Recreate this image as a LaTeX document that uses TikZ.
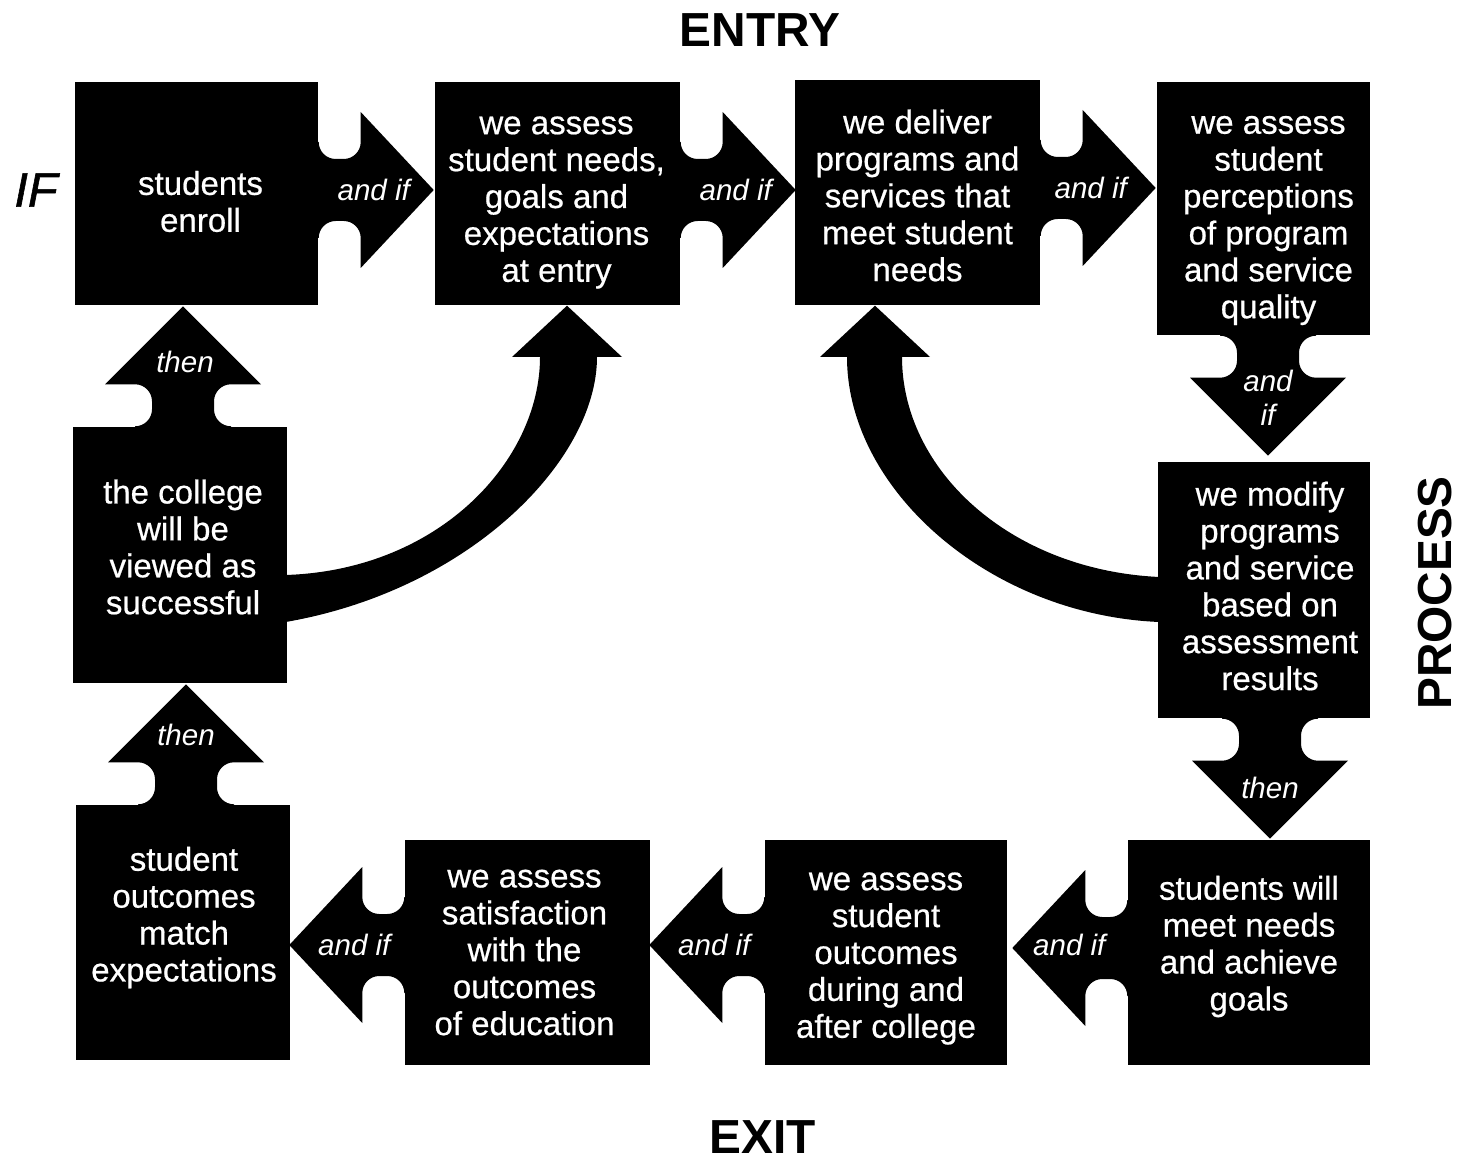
\documentclass[tikz,border=0pt]{standalone}
\usepackage{fontspec}
\setmainfont{Liberation Sans}
\newfontfamily\boxfont{Liberation Sans}[FakeBold=0.6]
\newfontfamily\iffont{Liberation Sans}[FakeBold=1.2]
\usetikzlibrary{calc}
\tikzset{
  box/.style={fill=black, draw=none, inner sep=0pt},
  boxtext/.style={text=white, align=center, inner sep=0pt,
    font=\boxfont\fontsize{9.4}{10.5}\selectfont},
  lbl/.style={text=white, inner sep=0pt, align=center,
    font=\fontsize{8.4}{9.6}\selectfont\itshape},
  puzzle/.style={fill=black},
  bigarrow/.style={fill=black},
  head/.style={inner sep=0pt, font=\fontsize{13.6}{15}\selectfont\bfseries},
}
% #1 origin, #2 rotation, #3 arrow-head length
\newcommand\puzzconn[3]{%
  \begin{scope}[shift={#1}, rotate=#2]
    \fill[puzzle] (-0.02,0.48) -- (0,0.48)
      arc[start angle=180, end angle=270, radius=0.17] -- (0.25,0.31)
      arc[start angle=270, end angle=360, radius=0.17] -- (0.42,0.78)
      -- ({0.42+#3},0) -- (0.42,-0.78) -- (0.42,-0.48)
      arc[start angle=0, end angle=90, radius=0.17] -- (0.17,-0.31)
      arc[start angle=90, end angle=180, radius=0.17] -- (-0.02,-0.48) -- cycle;
  \end{scope}}
\begin{document}
\begin{tikzpicture}
\useasboundingbox (0,0) rectangle (14.58,-11.61);

% boxes
\node[box, minimum width=2.43cm, minimum height=2.23cm] (b1) at (1.965,-1.935) {};
\node[box, minimum width=2.45cm, minimum height=2.23cm] (b2) at (5.575,-1.935) {};
\node[box, minimum width=2.45cm, minimum height=2.25cm] (b3) at (9.175,-1.925) {};
\node[box, minimum width=2.13cm, minimum height=2.53cm] (b4) at (12.635,-2.085) {};
\node[box, minimum width=2.12cm, minimum height=2.56cm] (b5) at (12.64,-5.90) {};
\node[box, minimum width=2.42cm, minimum height=2.25cm] (b6) at (12.49,-9.525) {};
\node[box, minimum width=2.42cm, minimum height=2.25cm] (b7) at (8.86,-9.525) {};
\node[box, minimum width=2.45cm, minimum height=2.25cm] (b8) at (5.275,-9.525) {};
\node[box, minimum width=2.14cm, minimum height=2.55cm] (b9) at (1.83,-9.325) {};
\node[box, minimum width=2.14cm, minimum height=2.56cm] (b10) at (1.80,-5.55) {};

% box texts
\node[boxtext] (t1) at ($(b1)+(0.04,-0.08)$) {students\\enroll};
\node[boxtext] (t2) at ($(b2)+(-0.01,-0.09)$) {we assess\\student needs,\\goals and\\expectations\\at entry};
\node[boxtext] (t3) at ($(b3)+(0,-0.03)$) {we deliver\\programs and\\services that\\meet student\\needs};
\node[boxtext] (t4) at ($(b4)+(0.05,-0.12)$) {we assess\\student\\perceptions\\of program\\and service\\quality};
\node[boxtext] (t5) at ($(b5)+(0.06,0.04)$) {we modify\\programs\\and service\\based on\\assessment\\results};
\node[boxtext] (t6) at ($(b6)+(0,0.06)$) {students will\\meet needs\\and achieve\\goals};
\node[boxtext] (t7) at ($(b7)+(0,-0.06)$) {we assess\\student\\outcomes\\during and\\after college};
\node[boxtext] (t8) at ($(b8)+(-0.03,0)$) {we assess\\satisfaction\\with the\\outcomes\\of education};
\node[boxtext] (t9) at ($(b9)+(0.01,0.15)$) {student\\outcomes\\match\\expectations};
\node[boxtext] (t10) at ($(b10)+(0.03,0.08)$) {the college\\will be\\viewed as\\successful};

% puzzle connectors
\puzzconn{($(b1.east)+(0,0.035)$)}{0}{0.73}
\puzzconn{($(b2.east)+(0,0.035)$)}{0}{0.73}
\puzzconn{($(b3.east)+(0,0.045)$)}{0}{0.73}
\puzzconn{($(b4.south)+(0.045,0)$)}{-90}{0.78}
\puzzconn{($(b5.south)+(0.06,0)$)}{-90}{0.78}
\puzzconn{($(b6.west)+(0,0.045)$)}{180}{0.73}
\puzzconn{($(b7.west)+(0,0.075)$)}{180}{0.73}
\puzzconn{($(b8.west)+(0,0.075)$)}{180}{0.73}
\puzzconn{($(b9.north)+(0.03,0)$)}{90}{0.78}
\puzzconn{($(b10.north)+(0.03,0)$)}{90}{0.78}

% connector labels
\node[lbl] (l1) at ($(b1.east)+(0.55,0.035)$) {and if};
\node[lbl] (l2) at ($(b2.east)+(0.55,0.035)$) {and if};
\node[lbl] (l3) at ($(b3.east)+(0.50,0.045)$) {and if};
\node[lbl] (l4) at ($(b4.south)+(0.045,-0.62)$) {and\\if};
\node[lbl] (l5) at ($(b5.south)+(0.06,-0.69)$) {then};
\node[lbl] (l6) at ($(b6.west)+(-0.58,0.075)$) {and if};
\node[lbl] (l7) at ($(b7.west)+(-0.50,0.075)$) {and if};
\node[lbl] (l8) at ($(b8.west)+(-0.50,0.075)$) {and if};
\node[lbl] (l9) at ($(b9.north)+(0.03,0.69)$) {then};
\node[lbl] (l10) at ($(b10.north)+(0.05,0.64)$) {then};

% curved feedback arrows
\fill[bigarrow] ($(b10.east)+(-0.02,-0.20)$)
  .. controls (4.40,-5.70) and (5.40,-4.60) .. (5.40,-3.57)
  -- (5.12,-3.57) -- ($(b2.south)+(0.095,0)$) -- (6.22,-3.57) -- (5.97,-3.57)
  .. controls (5.97,-4.60) and (4.70,-5.90) .. ($(b10.east)+(-0.02,-0.67)$) -- cycle;
\fill[bigarrow] ($(b5.west)+(0.02,0.13)$)
  .. controls (10.10,-5.70) and (9.02,-4.70) .. (9.02,-3.57)
  -- (9.30,-3.57) -- ($(b3.south)+(-0.425,0)$) -- (8.20,-3.57) -- (8.47,-3.57)
  .. controls (8.47,-4.90) and (9.90,-6.15) .. ($(b5.west)+(0.02,-0.32)$) -- cycle;

% headings
\node[head] (entry) at (7.60,-0.30) {ENTRY};
\node[head] (exit) at (7.63,-11.37) {EXIT};
\node[head, rotate=90] (process) at (14.35,-5.93) {PROCESS};
\node[inner sep=0pt, font=\iffont\fontsize{13.8}{15}\selectfont\itshape] (if) at (0.36,-1.90) {IF};
\end{tikzpicture}
\end{document}
